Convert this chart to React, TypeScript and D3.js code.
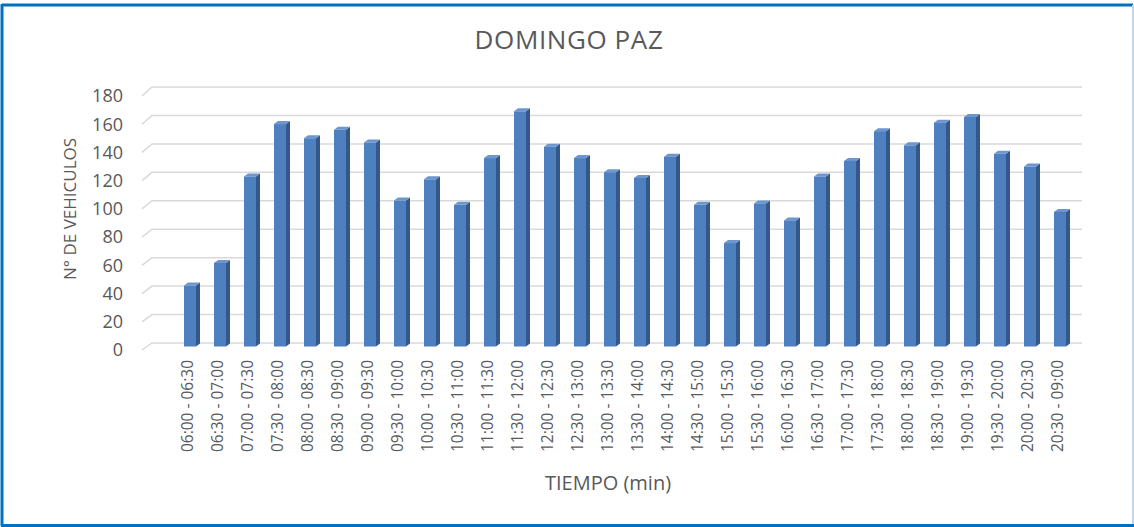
import React from "react";
import * as d3 from "d3";

const categories = [
  "06:00 - 06:30", "06:30 - 07:00", "07:00 - 07:30", "07:30 - 08:00", "08:00 - 08:30",
  "08:30 - 09:00", "09:00 - 09:30", "09:30 - 10:00", "10:00 - 10:30", "10:30 - 11:00",
  "11:00 - 11:30", "11:30 - 12:00", "12:00 - 12:30", "12:30 - 13:00", "13:00 - 13:30",
  "13:30 - 14:00", "14:00 - 14:30", "14:30 - 15:00", "15:00 - 15:30", "15:30 - 16:00",
  "16:00 - 16:30", "16:30 - 17:00", "17:00 - 17:30", "17:30 - 18:00", "18:00 - 18:30",
  "18:30 - 19:00", "19:00 - 19:30", "19:30 - 20:00", "20:00 - 20:30", "20:30 - 09:00",
];
const vehicles = [
  43, 59, 120, 157, 147, 153, 144, 103, 118, 100,
  133, 166, 141, 133, 123, 119, 134, 100, 73, 101,
  89, 120, 131, 152, 142, 158, 162, 136, 127, 95,
];
const yTicks = [0, 20, 40, 60, 80, 100, 120, 140, 160, 180];

const title = "DOMINGO PAZ";
const yTitle = "N° DE VEHICULOS";
const xTitle = "TIEMPO (min)";

const W = 1134;
const H = 527;
const FONT = "'Open Sans', 'Noto Sans', sans-serif";

export default function App() {
  const x = d3.scaleBand<string>().domain(categories).range([175, 1075]).padding(0);
  const yFront = d3.scaleLinear().domain([0, 180]).range([350, 96]);
  const yBack = d3.scaleLinear().domain([0, 180]).range([343, 87]);
  const yBar = d3.scaleLinear().domain([0, 180]).range([346.5, 91.5]);

  const frontX = 142;
  const backX = 152;
  const backRight = 1082;
  const faceW = 12;
  const sideW = 4;
  const topDy = 3;

  return (
    <svg
      width={W}
      height={H}
      style={{ position: "absolute", left: 0, top: 0, background: "#fff" }}
      fontFamily={FONT}
    >
      <rect x={0} y={0} width={W} height={H} fill="#fff" />
      {/* border */}
      <line x1={2} y1={5} x2={1133} y2={5} stroke="#0070C0" strokeWidth={3} />
      <line x1={2} y1={4} x2={2} y2={526} stroke="#0070C0" strokeWidth={3} />
      <line x1={1} y1={525.5} x2={1134} y2={525.5} stroke="#0070C0" strokeWidth={3} />
      <line x1={1133} y1={5} x2={1133} y2={524} stroke="#BDD7EE" strokeWidth={2} />

      {/* title */}
      <text x={569} y={49} textAnchor="middle" fontSize={26} letterSpacing={0.6} fill="#595959">
        {title}
      </text>

      {/* gridlines */}
      {yTicks.map((t) => (
        <g key={t}>
          <polyline
            points={`${frontX},${yFront(t)} ${backX},${yBack(t)} ${backRight},${yBack(t)}`}
            fill="none"
            stroke="#D9D9D9"
            strokeWidth={1.5}
          />
          <text
            x={123}
            y={yFront(t)}
            dy="0.35em"
            textAnchor="end"
            fontSize={18}
            fill="#595959"
          >
            {t}
          </text>
        </g>
      ))}

      {/* bars */}
      {categories.map((c, i) => {
        const cx = (x(c) as number) + x.bandwidth() / 2;
        const x0 = cx - faceW / 2;
        const x1 = cx + faceW / 2;
        const yt = yBar(vehicles[i]);
        const yb = yBar(0);
        return (
          <g key={c}>
            <polygon
              points={`${x1},${yt} ${x1 + sideW},${yt - topDy} ${x1 + sideW},${yb - topDy} ${x1},${yb}`}
              fill="#34588A"
            />
            <polygon
              points={`${x0},${yt} ${x0 + sideW},${yt - topDy} ${x1 + sideW},${yt - topDy} ${x1},${yt}`}
              fill="#6C96CD"
            />
            <rect x={x0} y={yt} width={faceW} height={yb - yt} fill="#4E7FBE" />
          </g>
        );
      })}

      {/* category labels */}
      {categories.map((c) => {
        const cx = (x(c) as number) + x.bandwidth() / 2 - 2;
        return (
          <text
            key={c}
            transform={`translate(${cx},360) rotate(-90)`}
            textAnchor="end"
            dy="0.35em"
            fontSize={15.5}
            fill="#595959"
          >
            {c}
          </text>
        );
      })}

      {/* axis titles */}
      <text
        transform="translate(70,209) rotate(-90)"
        textAnchor="middle"
        dy="0.35em"
        fontSize={17}
        fill="#595959"
      >
        {yTitle}
      </text>
      <text x={608} y={490} textAnchor="middle" fontSize={20} fill="#595959">
        {xTitle}
      </text>
    </svg>
  );
}
